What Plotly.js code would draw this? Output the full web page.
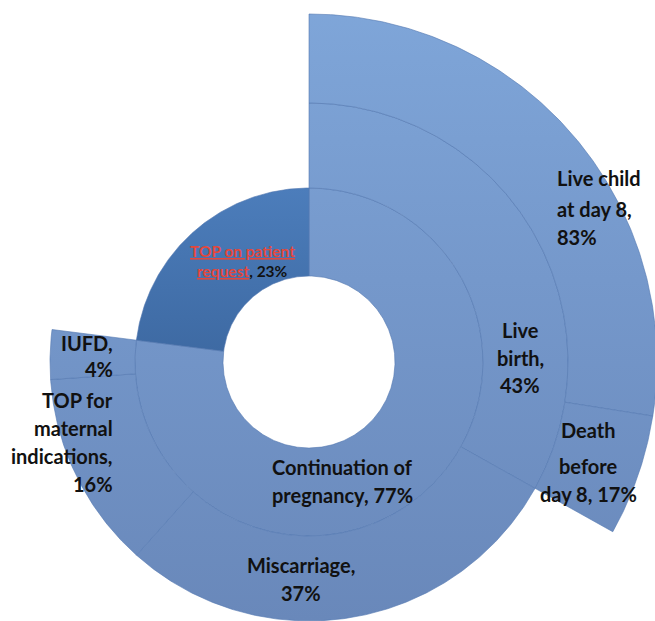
<!DOCTYPE html>
<html>
<head>
<meta charset="utf-8">
<script src="https://cdn.plot.ly/plotly-3.0.1.min.js"></script>
<style>
  html, body { margin: 0; padding: 0; background: #ffffff; }
  #chart { width: 655px; height: 621px; }
</style>
</head>
<body>
<div id="chart"></div>
<script>
// Pregnancy outcomes as nested rings, read clockwise from 12 o'clock.
const innerLabels = ["Continuation of pregnancy", "TOP on patient request"];
const innerValues = [77, 23];            // % of all pregnancies
const middleLabels = ["Live birth", "Miscarriage", "TOP for maternal indications", "IUFD"];
const middleValues = [43, 37, 16, 4];    // % of continued pregnancies
const outerLabels = ["Live child at day 8", "Death before day 8"];
const outerValues = [83, 17];            // % of live births

// Ring radii in axis units (1 unit = 1 px)
const R_HOLE = 86, R_INNER = 174, R_MIDDLE = 259, R_OUTER = 348;
// Axis window, centre of the rings at (0, 0)
const X_RANGE = [-309, 346], Y_RANGE = [-259, 362];

const DEG = Math.PI / 180;

// Split a parent's angular span clockwise among its children
function spans(values, total, start) {
  let a = start;
  return values.map(v => {
    const s = v / 100 * total;
    const seg = [a, a - s];
    a -= s;
    return seg;
  });
}

const innerSeg = spans(innerValues, 360, 90);
const contSpan = innerSeg[0][0] - innerSeg[0][1];
const middleSeg = spans(middleValues, contSpan, innerSeg[0][0]);
const liveSpan = middleSeg[0][0] - middleSeg[0][1];
const outerSeg = spans(outerValues, liveSpan, middleSeg[0][0]);

// Annular sector outline: outer arc a0 -> a1, back along inner arc
function sector(a0, a1, r0, r1) {
  const n = Math.max(4, Math.ceil(Math.abs(a0 - a1) / 0.5));
  const xs = [], ys = [];
  for (let i = 0; i <= n; i++) {
    const a = (a0 + (a1 - a0) * i / n) * DEG;
    xs.push(r1 * Math.cos(a)); ys.push(r1 * Math.sin(a));
  }
  for (let i = n; i >= 0; i--) {
    const a = (a0 + (a1 - a0) * i / n) * DEG;
    xs.push(r0 * Math.cos(a)); ys.push(r0 * Math.sin(a));
  }
  xs.push(xs[0]); ys.push(ys[0]);
  return { xs, ys };
}

const LIGHT = [[0, '#6988ba'], [0.55, '#7598cb'], [1, '#7fa6d9']];
const DARK = [[0, '#3e6aa3'], [1, '#4c7dbb']];
const EDGE = 'rgba(84,120,176,0.6)';

function ringTrace(seg, r0, r1, name, dark) {
  const p = sector(seg[0], seg[1], r0, r1);
  const grad = dark
    ? { type: 'vertical', colorscale: DARK }
    : { type: 'vertical', colorscale: LIGHT, start: Y_RANGE[0], stop: Y_RANGE[1] };
  return {
    type: 'scatter', mode: 'lines', name: name,
    x: p.xs, y: p.ys, fill: 'toself',
    fillcolor: dark ? '#4676b4' : '#7699cc',
    fillgradient: grad,
    line: { color: EDGE, width: 1 },
    hoverinfo: 'skip'
  };
}

const traces = [];
innerLabels.forEach((n, i) => traces.push(ringTrace(innerSeg[i], R_HOLE, R_INNER, n, n === "TOP on patient request")));
middleLabels.forEach((n, i) => traces.push(ringTrace(middleSeg[i], R_INNER, R_MIDDLE, n, false)));
outerLabels.forEach((n, i) => traces.push(ringTrace(outerSeg[i], R_MIDDLE, R_OUTER, n, false)));

// Label placement (px from the top-left of the page); words = words per line
const placement = {
  "TOP on patient request":       { x: 242, ys: [251, 271], anchor: 'center', size: 15.5, words: [3, 2], link: true },
  "Continuation of pregnancy":    { x: 270, ys: [467, 495], anchor: 'left',   size: 20, words: [2, 2] },
  "Live birth":                   { x: 520, ys: [330, 358, 385], anchor: 'center', size: 20, words: [1, 1, 1] },
  "Miscarriage":                  { x: 301, ys: [565, 593], anchor: 'center', size: 20, words: [1, 1] },
  "TOP for maternal indications": { x: 115, ys: [400, 428, 456, 484], anchor: 'right', size: 20, words: [2, 1, 1, 1] },
  "IUFD":                         { x: 115, ys: [343, 369], anchor: 'right', size: 20, words: [1, 1] },
  "Live child at day 8":          { x: 555, ys: [178, 209, 237], anchor: 'left', size: 20, words: [2, 3, 1] },
  "Death before day 8":           { x: 588, ys: [430, 466, 494], anchor: 'center', size: 20, words: [1, 1, 3] }
};

const LINK_RED = '#e3473b';
const INK = '#111111';

function labelLines(name, value, link, counts) {
  const nameWords = name.split(' ');
  const tokens = nameWords.map((w, i) => ({ t: w, name: true, comma: i === nameWords.length - 1 }));
  tokens.push({ t: value + '%', name: false, comma: false });
  const lines = [];
  let k = 0;
  counts.forEach(c => {
    const part = tokens.slice(k, k + c);
    k += c;
    let html = '';
    let group = [];
    const flush = () => {
      if (group.length) {
        html += `<span style="color:${LINK_RED}"><u>${group.join(' ')}</u></span>`;
        group = [];
      }
    };
    part.forEach(tk => {
      if (link && tk.name) {
        group.push(tk.t);
        if (tk.comma) { flush(); html += ','; }
      } else {
        flush();
        if (html) html += ' ';
        html += tk.t + (tk.comma ? ',' : '');
      }
    });
    flush();
    lines.push(html);
  });
  return lines;
}

const annotations = [];
function addLabels(labels, values) {
  labels.forEach((n, i) => {
    const pl = placement[n];
    const lines = labelLines(n, values[i], !!pl.link, pl.words);
    lines.forEach((txt, j) => {
      annotations.push({
        x: pl.x + X_RANGE[0], y: Y_RANGE[1] - pl.ys[j],
        xref: 'x', yref: 'y', text: txt, showarrow: false,
        xanchor: pl.anchor, yanchor: 'middle', align: pl.anchor,
        font: { family: 'Lato, "Open Sans", sans-serif', size: pl.size, color: INK, weight: 700 }
      });
    });
  });
}
addLabels(innerLabels, innerValues);
addLabels(middleLabels, middleValues);
addLabels(outerLabels, outerValues);

const layout = {
  width: 655, height: 621,
  margin: { l: 0, r: 0, t: 0, b: 0 },
  paper_bgcolor: '#ffffff', plot_bgcolor: '#ffffff',
  showlegend: false, hovermode: false,
  xaxis: { range: X_RANGE, visible: false, fixedrange: true },
  yaxis: { range: Y_RANGE, visible: false, fixedrange: true },
  annotations: annotations
};

Plotly.newPlot('chart', traces, layout, { displayModeBar: false, staticPlot: true });
</script>
</body>
</html>
